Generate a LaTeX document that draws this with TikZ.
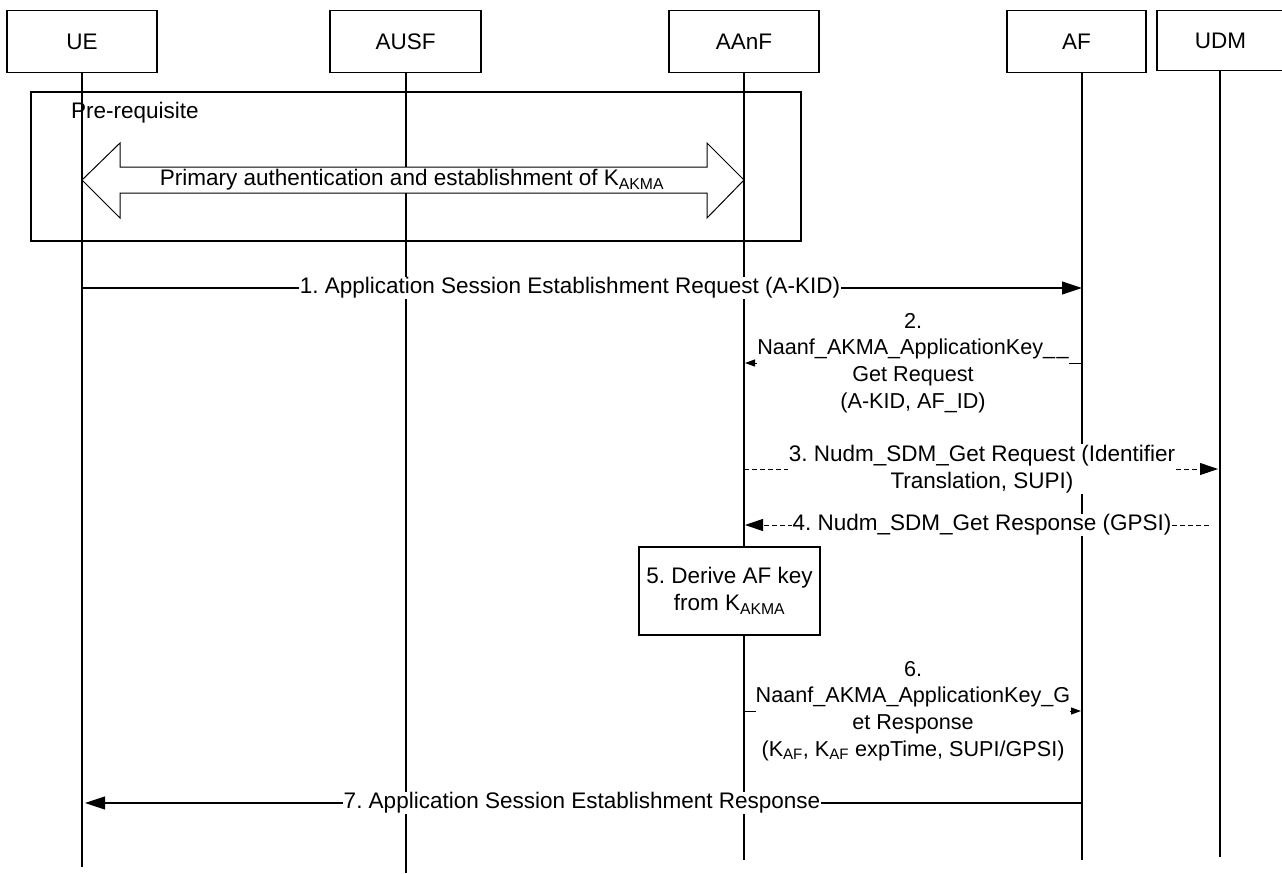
\documentclass[tikz,border=0pt]{standalone}
\usepackage{fontspec}
\setmainfont{Liberation Sans}
\usetikzlibrary{arrows.meta}
\frenchspacing
\begin{document}
\begin{tikzpicture}[x=1pt,y=-1pt,
  every node/.style={font=\fontsize{22.5}{26.7}\selectfont},
  hdr/.style={draw, line width=1.2pt, minimum width=150pt, minimum height=62pt, inner sep=0pt},
  life/.style={line width=1.1pt},
  lbl/.style={fill=white, inner sep=1pt, align=center},
  nlbl/.style={fill=white, inner xsep=0pt, inner ysep=1pt, align=center, font=\fontsize{21.6}{26.7}\selectfont},
  msg/.style={line width=1.1pt, -{Triangle[length=20pt,width=13pt]}},
  dmsg/.style={line width=1pt, dash pattern=on 5pt off 3pt, -{Triangle[length=18pt,width=12pt]}},
  smsg/.style={line width=1pt, -{Triangle[length=10pt,width=7pt]}},
  framebox/.style={draw, line width=1.2pt, inner sep=0pt}
]
\useasboundingbox (0,0) rectangle (1282,873);

% header boxes
\node[hdr] (ue) at (82,41.5) {UE};
\node[hdr, minimum width=151pt] (ausf) at (405.5,41.5) {AUSF};
\node[hdr] (aanf) at (744,41.5) {AAnF};
\node[hdr, minimum width=139pt] (af) at (1076.5,41.5) {AF};
\node[hdr, minimum width=127pt, minimum height=60pt] (udm) at (1220.5,40.5) {UDM};

% lifelines
\coordinate (ueEnd) at (82,867);
\coordinate (ausfEnd) at (406,873);
\coordinate (aanfEnd) at (744,860);
\coordinate (afEnd) at (1082,860);
\coordinate (udmEnd) at (1220,857);
\draw[life] (ue.south -| ueEnd) -- (ueEnd);
\draw[life] (ausf.south -| ausfEnd) -- (ausfEnd);
\draw[life] (aanf.south -| aanfEnd) -- (aanfEnd);
\draw[life] (af.south -| afEnd) -- (afEnd);
\draw[life] (udm.south -| udmEnd) -- (udmEnd);

% pre-requisite frame
\node[framebox, minimum width=770pt, minimum height=149pt] (pre) at (416,166.5) {};
\node[anchor=west, inner sep=0pt] (pretxt) at (71,113) {Pre-requisite};

% double arrow
\draw[line width=1pt, fill=white] (82,180) -- (120,143) -- (120,167) -- (707,167) -- (707,143)
  -- (744,180) -- (707,218) -- (707,193) -- (120,193) -- (120,218) -- cycle;
\node[inner sep=0pt] (auth) at (412,180) {Primary authentication and establishment of K\textsubscript{AKMA}};

% message 1
\coordinate (ue1) at (82,288);
\coordinate (af1) at (1082,288);
\draw[msg] (ue1) -- (af1) node[lbl, pos=0.488] (m1) {1. Application Session Establishment Request (A-KID)};

% message 2
\coordinate (af2) at (1082,363);
\coordinate (aanf2) at (744,363);
\draw[smsg, shorten >=1pt] (af2) -- (aanf2) node[nlbl, midway] (m2)
  {2.\\Naanf\_AKMA\_ApplicationKey\_\kern1.5pt\_\\Get Request\\(A-KID, AF\_ID)};

% message 3
\coordinate (aanf3) at (744,469);
\coordinate (udm3) at (1220,469);
\draw[dmsg, shorten >=2pt] (aanf3) -- (udm3) node[lbl, midway] (m3)
  {3. Nudm\_SDM\_Get Request (Identifier\\Translation, SUPI)};

% message 4
\coordinate (udm4) at (1220,525);
\coordinate (aanf4) at (744,525);
\draw[dmsg, shorten <=11pt, shorten >=1pt] (udm4) -- (aanf4) node[lbl, midway] (m4)
  {4. Nudm\_SDM\_Get Response (GPSI)};

% step 5 box
\node[framebox, fill=white, minimum width=181pt, minimum height=88pt, align=center] (derive)
  at (729.5,591) {5. Derive AF key\\from K\textsubscript{AKMA}};

% message 6
\coordinate (aanf6) at (744,711);
\coordinate (af6) at (1082,711);
\draw[smsg, shorten >=1pt] (aanf6) -- (af6) node[nlbl, midway] (m6)
  {6.\\Naanf\_AKMA\_ApplicationKey\_G\\et Response\\(K\textsubscript{AF}, K\textsubscript{AF} expTime, SUPI/GPSI)};

% message 7
\coordinate (af7) at (1082,803);
\coordinate (ue7) at (82,803);
\draw[msg, shorten >=3pt] (af7) -- (ue7) node[lbl, midway] (m7) {7. Application Session Establishment Response};
\end{tikzpicture}
\end{document}
